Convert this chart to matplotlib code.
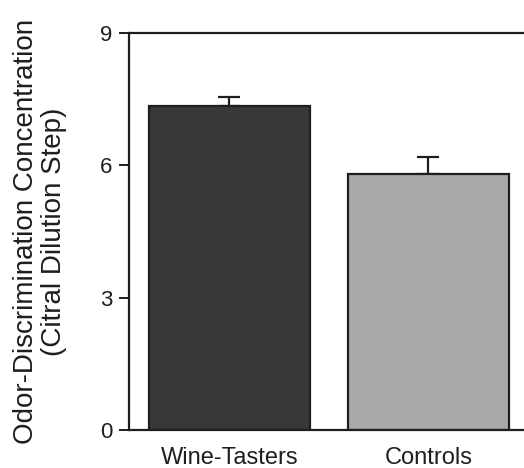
import matplotlib
matplotlib.use("Agg")
import matplotlib.pyplot as plt

groups = ["Wine-Tasters", "Controls"]
means = [7.35, 5.80]
errors = [0.19, 0.38]
bar_colors = ["#383838", "#a9a9a9"]
yticks = [0, 3, 6, 9]

plt.rcParams["font.family"] = ["Liberation Sans", "DejaVu Sans"]

fig = plt.figure(figsize=(5.24, 4.68), dpi=100)
ax = fig.add_axes([0.246, 0.081, 0.754, 0.8485])

x = list(range(len(groups)))
ax.bar(x, means, width=0.81, color=bar_colors, edgecolor="#1e1e1e",
       linewidth=1.6, zorder=2)
ax.errorbar(x, [m + e / 2 for m, e in zip(means, errors)],
            yerr=[[e / 2 for e in errors], [e / 2 for e in errors]],
            fmt="none", ecolor="#1e1e1e", elinewidth=1.6, capsize=8,
            capthick=1.6, zorder=1)

ax.set_xlim(-0.505, 1.48)
ax.set_ylim(0, 9)
ax.set_yticks(yticks)
ax.set_xticks(x)
ax.set_xticklabels(groups, fontsize=17)
ax.tick_params(axis="y", labelsize=16, direction="out", length=7,
               width=1.4, pad=5, colors="#1e1e1e")
ax.tick_params(axis="x", length=0, pad=12, colors="#1e1e1e")

for s in ["left", "top", "bottom"]:
    ax.spines[s].set_linewidth(1.6)
    ax.spines[s].set_color("#1e1e1e")
ax.spines["right"].set_visible(False)

ax.set_ylabel("Odor-Discrimination Concentration\n(Citral Dilution Step)",
              fontsize=20, linespacing=1.1, color="#1e1e1e")
ax.yaxis.label.set_verticalalignment("center")
ax.yaxis.set_label_coords(-0.226, 0.5)

fig.savefig("out.png", dpi=100)
